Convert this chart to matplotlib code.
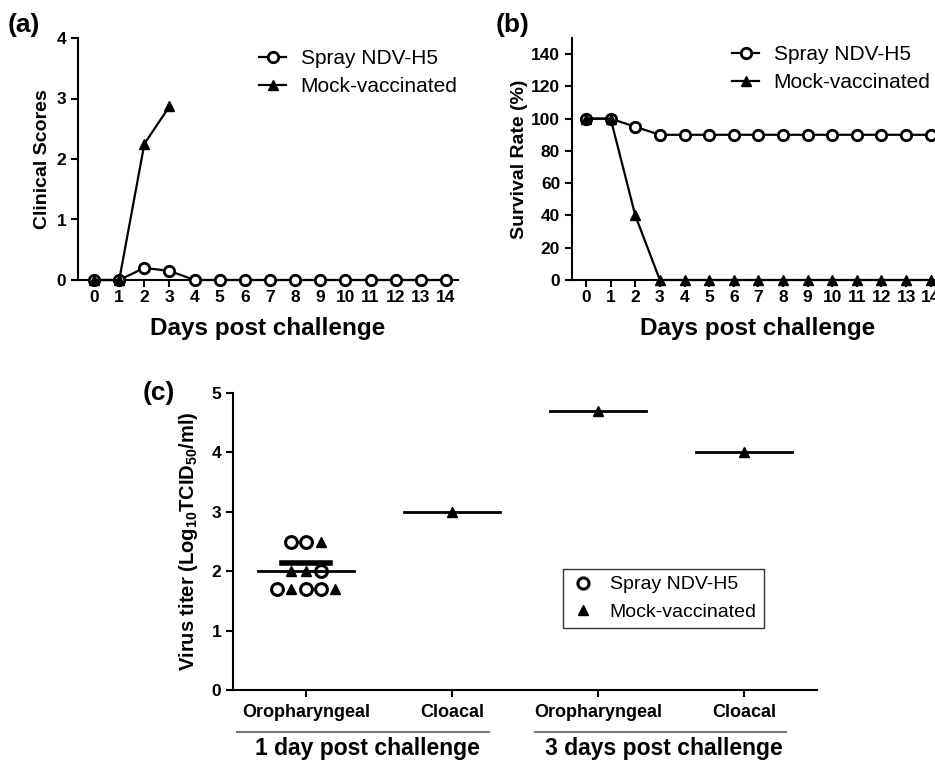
import matplotlib
matplotlib.use('Agg')
import matplotlib.pyplot as plt
from matplotlib.lines import Line2D

plt.rcParams['font.family'] = ['Liberation Sans', 'DejaVu Sans']
plt.rcParams['mathtext.fontset'] = 'custom'
plt.rcParams['mathtext.rm'] = 'Liberation Sans:bold'
plt.rcParams['mathtext.default'] = 'rm'

# panel a / b data
days = list(range(15))
spray_scores = [0, 0, 0.2, 0.15, 0, 0, 0, 0, 0, 0, 0, 0, 0, 0, 0]
mock_scores = [0, 0, 2.25, 2.87]
spray_survival = [100, 100, 95, 90, 90, 90, 90, 90, 90, 90, 90, 90, 90, 90, 90]
mock_survival = [100, 100, 40, 0, 0, 0, 0, 0, 0, 0, 0, 0, 0, 0, 0]

# panel c data
sites = ['Oropharyngeal', 'Cloacal', 'Oropharyngeal', 'Cloacal']
groups = ['1 day post challenge', '3 days post challenge']
spray_oro1 = [2.5, 2.5, 2.0, 1.7, 1.7, 1.7]
mock_oro1 = [2.5, 2.0, 2.0, 1.7, 1.7]
mock_rest = [3.0, 4.7, 4.0]      # cloacal 1 dpc, oro 3 dpc, cloacal 3 dpc
means = [2.0, 3.0, 4.7, 4.0]
sem_top = 2.13

spray_off = [-0.1, 0, 0.1, -0.2, 0, 0.1]
mock_off = [0.1, -0.1, 0, -0.1, 0.2]

lw = 1.6
tick_fs = 12.5
fig = plt.figure(figsize=(9.35, 7.62), dpi=100)


def style(ax):
    for s in ['top', 'right']:
        ax.spines[s].set_visible(False)
    for s in ['left', 'bottom']:
        ax.spines[s].set_linewidth(1.5)
    ax.tick_params(width=1.5, length=5, labelsize=tick_fs)
    for t in ax.get_xticklabels() + ax.get_yticklabels():
        t.set_fontweight('bold')


circ = dict(marker='o', mfc='white', mec='black', mew=2, ms=7.5, color='black', lw=lw, clip_on=False)
tri = dict(marker='^', mfc='black', mec='black', ms=6.5, color='black', lw=lw, clip_on=False)
leg_kw = dict(frameon=False, fontsize=15, handlelength=1.3, handletextpad=0.7, labelspacing=0.45,
              borderpad=0, borderaxespad=0)

# (a)
axa = fig.add_axes([78/935, 1-280/762, 380/935, 242/762])
axa.plot(days, spray_scores, label='Spray NDV-H5', zorder=3, **circ)
axa.plot(days[:len(mock_scores)], mock_scores, label='Mock-vaccinated', zorder=4, **tri)
axa.set_xlim(-0.64, 14.48)
axa.set_ylim(0, 4)
axa.set_xticks(days)
axa.set_yticks([0, 1, 2, 3, 4])
style(axa)
axa.tick_params(axis='x', pad=2)
axa.set_ylabel('Clinical Scores', fontsize=14, fontweight='bold', labelpad=4)
axa.set_xlabel('Days post challenge', fontsize=17.5, fontweight='bold', labelpad=9)
axa.legend(loc='upper left', bbox_to_anchor=(259/935, 1-49/762), bbox_transform=fig.transFigure, **leg_kw)
fig.text(8/935, 1-25/762, '(a)', fontsize=19, fontweight='bold', va='center')

# (b)
axb = fig.add_axes([572/935, 1-280/762, 371/935, 242/762])
axb.plot(days, spray_survival, label='Spray NDV-H5', zorder=3, **circ)
axb.plot(days, mock_survival, label='Mock-vaccinated', zorder=4, **tri)
axb.set_xlim(-0.57, 14.5)
axb.set_ylim(0, 150)
axb.set_xticks(days)
axb.set_yticks(range(0, 141, 20))
style(axb)
axb.tick_params(axis='x', pad=2)
axb.set_ylabel('Survival Rate (%)', fontsize=14, fontweight='bold', labelpad=2)
axb.set_xlabel('Days post challenge', fontsize=17.5, fontweight='bold', labelpad=9)
axb.legend(loc='upper left', bbox_to_anchor=(732/935, 1-45/762), bbox_transform=fig.transFigure, **leg_kw)
fig.text(496/935, 1-25/762, '(b)', fontsize=19, fontweight='bold', va='center')

# (c)
axc = fig.add_axes([233/935, 1-690/762, 584/935, 297/762])
pos = [0.5, 1.5, 2.5, 3.5]
axc.plot([pos[0] + o for o in spray_off], spray_oro1, ls='none', marker='o', mfc='white',
         mec='black', mew=2.2, ms=8.5, clip_on=False, zorder=3)
axc.plot([pos[0] + o for o in mock_off], mock_oro1, ls='none', marker='^', color='black',
         ms=7, clip_on=False, zorder=3)
axc.plot(pos[1:], mock_rest, ls='none', marker='^', color='black', ms=7, zorder=3)
for p, m in zip(pos, means):
    axc.plot([p - 0.33, p + 0.33], [m, m], color='black', lw=2, zorder=4)
axc.plot([pos[0] - 0.165, pos[0] + 0.165], [sem_top, sem_top], color='black', lw=4, zorder=4)
axc.set_xlim(0, 4)
axc.set_ylim(0, 5)
axc.set_xticks(pos)
axc.set_xticklabels(sites)
axc.set_yticks(range(6))
style(axc)
axc.tick_params(axis='x', labelsize=13, pad=5)
for t in axc.get_xticklabels():
    t.set_fontweight('bold')
axc.set_ylabel(r'Virus titer (Log$_{10}$TCID$_{50}$/ml)', fontsize=14.5, fontweight='bold', labelpad=8)

for (x0, x1, xc), g in zip([(0.03, 1.75, 0.92), (2.07, 3.79, 2.95)], groups):
    axc.plot([x0, x1], [-0.141, -0.141], color='#777777', lw=1.5, clip_on=False,
             transform=axc.get_xaxis_transform())
    axc.text(xc, -0.197, g, fontsize=16.5, fontweight='bold', ha='center', va='center',
             transform=axc.get_xaxis_transform())

handles = [Line2D([], [], ls='none', marker='o', mfc='white', mec='black', mew=2.2, ms=8),
           Line2D([], [], ls='none', marker='^', color='black', ms=7)]
leg = axc.legend(handles, ['Spray NDV-H5', 'Mock-vaccinated'], loc='upper left',
                 bbox_to_anchor=(563/935, 1-569/762), bbox_transform=fig.transFigure,
                 fontsize=14, fancybox=False, edgecolor='black', handlelength=1.34,
                 handletextpad=0.72, borderpad=0.35, labelspacing=0.5, borderaxespad=0)
leg.get_frame().set_linewidth(1)
fig.text(143/935, 1-393/762, '(c)', fontsize=19, fontweight='bold', va='center')

fig.savefig('out.png', dpi=100)
